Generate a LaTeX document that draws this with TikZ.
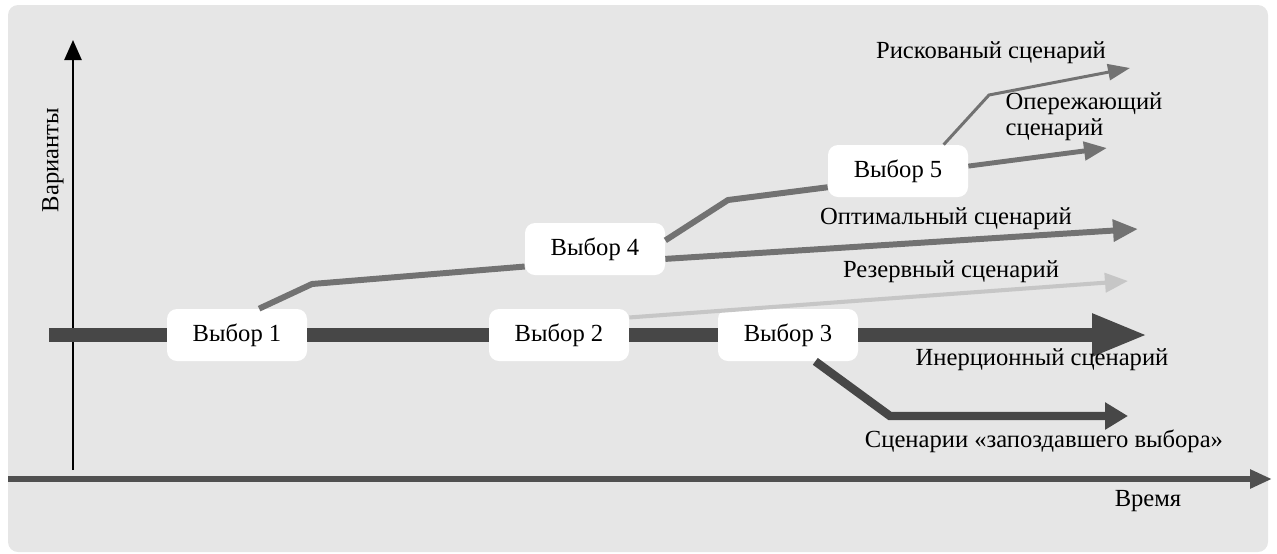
\documentclass[tikz,border=0pt]{standalone}
\usepackage{fontspec}
\setmainfont{Liberation Serif}
\usepackage{tikz}
\usetikzlibrary{arrows.meta}
\definecolor{bggray}{HTML}{E6E6E6}
\definecolor{bardark}{HTML}{474747}
\definecolor{linemid}{HTML}{727272}
\definecolor{linelight}{HTML}{C6C6C6}
\definecolor{axisgray}{HTML}{505050}

\begin{document}
\begin{tikzpicture}[x=0.2mm,y=-0.2mm,
    choice/.style={fill=white,rounded corners=2mm,minimum width=28mm,minimum height=10.4mm,inner sep=0pt,font=\fontsize{14}{15}\selectfont},
    lbl/.style={inner sep=0pt,font=\fontsize{14}{15}\selectfont}]
    \useasboundingbox (0,0) rectangle (1277,553);
    \fill[bggray,rounded corners=2mm] (8,5) rectangle (1268,552);
    \coordinate (yB) at (73,470);
    \coordinate (yT) at (73,40);
    \coordinate (tB) at (8,479);
    \coordinate (tT) at (1272,479);
    \draw[line width=1.4pt,-{Triangle[length=4mm,width=3.4mm]}] (yB) -- (yT);
    \draw[axisgray,line width=3.4pt,-{Triangle[length=4.4mm,width=3.6mm]}] (tB) -- (tT);
    \node[lbl,rotate=90] (vars) at (53,160) {Варианты};
    \node[lbl] (time) at (1148,501) {Время};
    \node[choice] (ch1) at (237,335) {Выбор 1};
    \node[choice] (ch2) at (559,335) {Выбор 2};
    \node[choice] (ch3) at (788,335) {Выбор 3};
    \node[choice] (ch4) at (595,249) {Выбор 4};
    \node[choice] (ch5) at (898,171) {Выбор 5};
    \coordinate (mainS) at (49,335);
    \coordinate (mainT) at (1148,335);
    \draw[bardark,line width=7.9pt] (mainS) -- (ch1);
    \draw[bardark,line width=7.9pt] (ch1) -- (ch2);
    \draw[bardark,line width=7.9pt] (ch2) -- (ch3);
    \draw[bardark,line width=7.9pt,-{Triangle[length=11.2mm,width=7.8mm]}] (ch3) -- (mainT);
    \draw[linemid,line width=3.4pt] (ch1.50) -- (312,284) -- (ch4.194);
    \draw[linemid,line width=3.4pt] (ch4.7) -- (728,200) -- (ch5.193);
    \coordinate (optT) at (1138,229);
    \draw[linemid,line width=3.4pt,-{Triangle[length=5mm,width=4.2mm]}] (ch4.-8) -- (optT);
    \coordinate (riskT) at (1130,68);
    \draw[linemid,line width=1.7pt,-{Triangle[length=4.4mm,width=3.2mm]}] (ch5.30) -- (989,95) -- (riskT);
    \coordinate (leadT) at (1107,148);
    \draw[linemid,line width=2.8pt,-{Triangle[length=4.6mm,width=3.6mm]}] (ch5.4) -- (leadT);
    \coordinate (resT) at (1128,281);
    \draw[linelight,line width=2.3pt,-{Triangle[length=4.6mm,width=3.8mm]}] (ch2.14) -- (resT);
    \coordinate (lateT) at (1128,416);
    \draw[bardark,line width=4.8pt,-{Triangle[length=4.6mm,width=5.2mm]}] (ch3.-44) -- (890,416) -- (lateT);
    \node[lbl] (risk) at (991,53) {Рискованый сценарий};
    \node[lbl,align=left] (lead) at (1084,117) {Опережающий\\сценарий};
    \node[lbl] (opt) at (946,219) {Оптимальный сценарий};
    \node[lbl] (res) at (951,272) {Резервный сценарий};
    \node[lbl] (inert) at (1042,360) {Инерционный сценарий};
    \node[lbl] (late) at (1044,441) {Сценарии «запоздавшего выбора»};
\end{tikzpicture}
\end{document}
